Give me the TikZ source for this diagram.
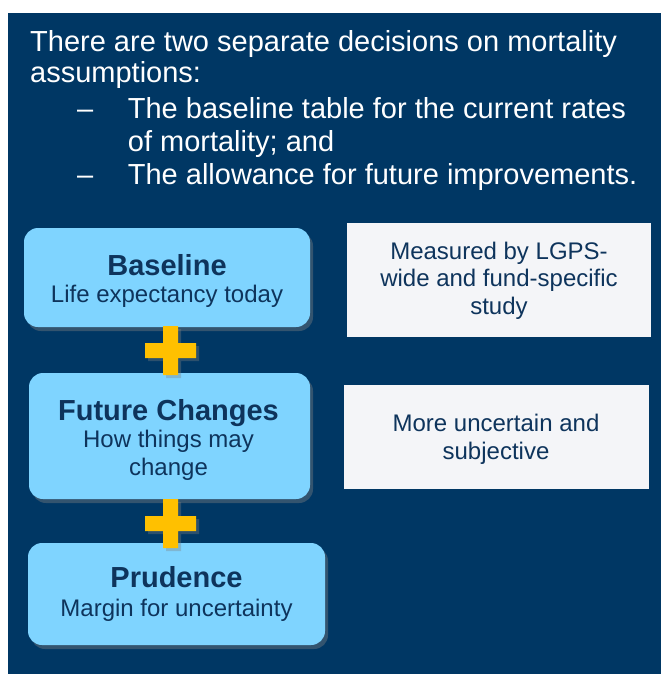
\documentclass[tikz,border=0pt]{standalone}
\usepackage{fontspec}
\setmainfont{Liberation Sans}
\usetikzlibrary{shadows}
\definecolor{slidenavy}{RGB}{0,55,100}
\definecolor{boxblue}{RGB}{127,212,255}
\definecolor{boxtext}{RGB}{14,52,92}
\definecolor{notegrey}{RGB}{244,245,248}
\definecolor{plusgold}{RGB}{255,192,0}
\tikzset{
  stage/.style={fill=boxblue, rounded corners=14pt, inner sep=0pt,
    drop shadow={shadow xshift=3pt, shadow yshift=-4pt, opacity=0.4}},
  note/.style={fill=notegrey, inner sep=0pt},
  head/.style={text=white, anchor=base west, inner sep=0pt, font=\fontsize{29}{33}\selectfont},
  stagetitle/.style={text=boxtext, anchor=base, inner sep=0pt, font=\fontsize{29}{33}\selectfont\bfseries},
  stagesub/.style={text=boxtext, anchor=base, inner sep=0pt, font=\fontsize{24}{28}\selectfont},
  plusfill/.style={fill=plusgold, drop shadow={shadow xshift=3pt, shadow yshift=-3pt, opacity=0.35}}
}
\def\plussign#1#2{\fill[plusfill] (#1-7.5,#2-24.5) rectangle (#1+7.5,#2+24.5) (#1-25.5,#2-7.5) rectangle (#1+25.5,#2+7.5);}

\begin{document}
\begin{tikzpicture}[x=1pt, y=-1pt]
		%%%%% START %%%%%
		\useasboundingbox (0, 0) rectangle (661, 674);
		\fill[slidenavy] (8, 13) rectangle (661, 674);
		
		\node[head] (headA) at (30, 51.7) {There are two separate decisions on mortality};
		\node[head] (headB) at (30, 82.5) {assumptions:};
		\node[head] (dashA) at (77, 118.3) {--};
		\node[head] (headC) at (127.7, 118.3) {The baseline table for the current rates};
		\node[head] (headD) at (127.7, 151.7) {of mortality; and};
		\node[head] (dashB) at (77, 184) {--};
		\node[head] (headE) at (127.7, 184) {The allowance for future improvements.};
		
		\node[stage, minimum width=286pt, minimum height=99pt] (base) at (167, 277.5) {};
		\node[stage, minimum width=281pt, minimum height=126pt] (future) at (169.5, 436) {};
		\node[stage, minimum width=297pt, minimum height=102pt] (prud) at (176.5, 594) {};
		
		\plussign{170.5}{350.5}
		\plussign{170.5}{523.5}
		
		\node[stagetitle] (baseT) at (167, 275) {Baseline};
		\node[stagesub] (baseS) at (167, 302.7) {Life expectancy today};
		\node[stagetitle] (futureT) at (168.5, 420) {Future Changes};
		\node[stagesub] (futureS) at (168.5, 447.7) {How things may};
		\node[stagesub] (futureU) at (168.5, 475) {change};
		\node[stagetitle] (prudT) at (176.5, 587.7) {Prudence};
		\node[stagesub] (prudS) at (176.5, 616.7) {Margin for uncertainty};
		
		\node[note, minimum width=304pt, minimum height=114pt] (noteA) at (499, 280) {};
		\node[stagesub] (noteAa) at (499, 259.3) {Measured by LGPS-};
		\node[stagesub] (noteAb) at (499, 286.7) {wide and fund-specific};
		\node[stagesub] (noteAc) at (499, 314.3) {study};
		
		\node[note, minimum width=305pt, minimum height=104pt] (noteB) at (496.5, 437) {};
		\node[stagesub] (noteBa) at (496, 431.7) {More uncertain and};
		\node[stagesub] (noteBb) at (496, 459.3) {subjective};
		%%%%% END %%%%%
\end{tikzpicture}
\end{document}
